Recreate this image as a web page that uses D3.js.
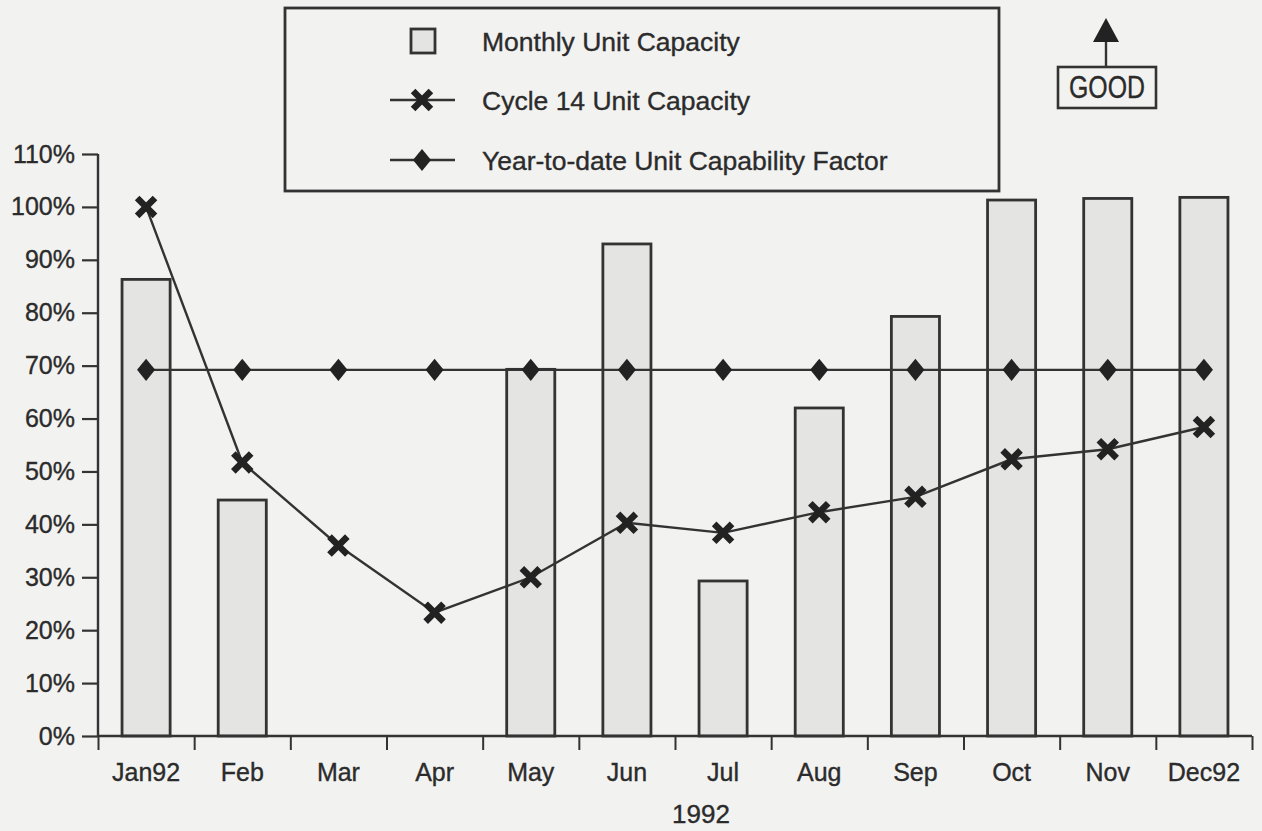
<!DOCTYPE html>
<html>
<head>
<meta charset="utf-8">
<script src="https://cdn.jsdelivr.net/npm/d3@7"></script>
<style>
  html, body { margin: 0; padding: 0; background: #f2f2f1; }
  svg { display: block; }
  text { font-family: "Liberation Sans", Arial, Helvetica, sans-serif; fill: #2b2b2b; stroke: #2b2b2b; stroke-width: 0.35px; }
</style>
</head>
<body>
<svg id="chart" width="1262" height="831"></svg>
<script>
// ---- data ----
const months = ["Jan92","Feb","Mar","Apr","May","Jun","Jul","Aug","Sep","Oct","Nov","Dec92"];
const monthlyUnitCapacity = [0.863, 0.446, 0, 0, 0.693, 0.930, 0.293, 0.620, 0.793, 1.013, 1.016, 1.018];
const cycle14UnitCapacity = [1.000, 0.517, 0.360, 0.233, 0.300, 0.403, 0.384, 0.423, 0.452, 0.523, 0.542, 0.584];
const ytdCapabilityFactor = [0.692, 0.692, 0.692, 0.692, 0.692, 0.692, 0.692, 0.692, 0.692, 0.692, 0.692, 0.692];
const yTicks = [0, 0.1, 0.2, 0.3, 0.4, 0.5, 0.6, 0.7, 0.8, 0.9, 1.0, 1.1];
const legendLabels = ["Monthly Unit Capacity", "Cycle 14 Unit Capacity", "Year-to-date Unit Capability Factor"];
const xTitle = "1992";
const goodLabel = "GOOD";

// ---- layout ----
const svg = d3.select("#chart");
const ink = "#333";
const barFill = "#e4e4e3";
const plotLeft = 98, plotRight = 1252, plotTop = 154, plotBottom = 736;

const x = d3.scaleBand().domain(months).range([plotLeft, plotRight]).paddingInner(0.5).paddingOuter(0.25);
const xb = d3.scaleLinear().domain([0, months.length]).range([plotLeft, plotRight]);
const y = d3.scaleLinear().domain([0, 1.1]).range([plotBottom, plotTop]);

// custom wide diamond symbol
const wideDiamond = {
  draw(ctx, size) {
    const h = Math.sqrt(size) * 0.8, w = h * 0.82;
    ctx.moveTo(0, -h); ctx.lineTo(w, 0); ctx.lineTo(0, h); ctx.lineTo(-w, 0); ctx.closePath();
  }
};

// bars
svg.append("g").selectAll("rect").data(months.map((m,i)=>({m, v: monthlyUnitCapacity[i]})).filter(d=>d.v>0))
  .join("rect")
  .attr("x", d => x(d.m))
  .attr("y", d => y(d.v))
  .attr("width", x.bandwidth())
  .attr("height", d => y(0) - y(d.v))
  .attr("fill", barFill)
  .attr("stroke", ink)
  .attr("stroke-width", 2.8);

// y axis
const yAxis = svg.append("g").attr("transform", `translate(${plotLeft},0)`)
  .call(d3.axisLeft(y).tickValues(yTicks).tickFormat(d3.format(".0%")).tickSize(16).tickPadding(7));
yAxis.select(".domain").attr("stroke", ink).attr("stroke-width", 2.4).attr("d", `M0,${plotTop}V${plotBottom}`);
yAxis.selectAll(".tick line").attr("stroke", ink).attr("stroke-width", 2.2);
yAxis.selectAll("text").attr("font-size", 25).attr("fill", "#2b2b2b")
  .style("font-family", '"Liberation Sans", Arial, sans-serif');

// x axis: boundary ticks
const xAxisTicks = svg.append("g").attr("transform", `translate(0,${plotBottom})`)
  .call(d3.axisBottom(xb).tickValues(d3.range(months.length + 1)).tickFormat("").tickSize(14));
xAxisTicks.select(".domain").attr("stroke", ink).attr("stroke-width", 2.6).attr("d", `M${plotLeft},0H${plotRight}`);
xAxisTicks.selectAll(".tick line").attr("stroke", ink).attr("stroke-width", 2);

// x axis: month labels
const xAxisLabels = svg.append("g").attr("transform", `translate(0,${plotBottom})`)
  .call(d3.axisBottom(x).tickSize(0).tickPadding(27));
xAxisLabels.select(".domain").remove();
xAxisLabels.selectAll("text").attr("font-size", 25).attr("fill", "#2b2b2b")
  .style("font-family", '"Liberation Sans", Arial, sans-serif');

// x title
svg.append("text").attr("x", 701).attr("y", 823).attr("text-anchor", "middle")
  .attr("font-size", 26).text(xTitle);

// YTD line
const line = d3.line().x((d,i) => x(months[i]) + x.bandwidth()/2).y(d => y(d));
svg.append("path").datum(ytdCapabilityFactor).attr("d", line)
  .attr("fill", "none").attr("stroke", ink).attr("stroke-width", 2.2);
const diamond = d3.symbol().type(wideDiamond).size(190);
svg.append("g").selectAll("path").data(ytdCapabilityFactor).join("path")
  .attr("transform", (d,i) => `translate(${x(months[i]) + x.bandwidth()/2},${y(d)})`)
  .attr("d", diamond).attr("fill", "#222");

// Cycle 14 line
svg.append("path").datum(cycle14UnitCapacity).attr("d", line)
  .attr("fill", "none").attr("stroke", ink).attr("stroke-width", 2.4);
const cross = d3.symbol().type(d3.symbolTimes).size(210);
svg.append("g").selectAll("path").data(cycle14UnitCapacity).join("path")
  .attr("transform", (d,i) => `translate(${x(months[i]) + x.bandwidth()/2},${y(d)})`)
  .attr("d", cross).attr("fill", "none").attr("stroke", "#222").attr("stroke-width", 6.5);

// legend
const lg = svg.append("g");
lg.append("rect").attr("x", 285).attr("y", 8).attr("width", 714).attr("height", 183)
  .attr("fill", "none").attr("stroke", ink).attr("stroke-width", 2.8);
const rowY = [41, 100, 160];
lg.append("rect").attr("x", 411).attr("y", rowY[0]-12).attr("width", 24).attr("height", 24)
  .attr("fill", barFill).attr("stroke", ink).attr("stroke-width", 2.8);
[1,2].forEach(r => {
  lg.append("line").attr("x1", 390).attr("x2", 455).attr("y1", rowY[r]).attr("y2", rowY[r])
    .attr("stroke", ink).attr("stroke-width", 2.4);
});
lg.append("path").attr("transform", `translate(422,${rowY[1]})`).attr("d", cross)
  .attr("fill", "none").attr("stroke", "#222").attr("stroke-width", 6.5);
lg.append("path").attr("transform", `translate(422,${rowY[2]})`).attr("d", diamond).attr("fill", "#222");
legendLabels.forEach((t, i) => {
  lg.append("text").attr("x", 482).attr("y", rowY[i]).attr("dy", "0.36em")
    .attr("font-size", 26.5).text(t);
});

// GOOD indicator
const gg = svg.append("g");
gg.append("rect").attr("x", 1058).attr("y", 67).attr("width", 98).attr("height", 41)
  .attr("fill", "none").attr("stroke", ink).attr("stroke-width", 2.6);
gg.append("text").attr("x", 1107).attr("y", 98).attr("text-anchor", "middle")
  .attr("font-size", 31).attr("textLength", 76).attr("lengthAdjust", "spacingAndGlyphs").text(goodLabel);
gg.append("line").attr("x1", 1106).attr("x2", 1106).attr("y1", 67).attr("y2", 40)
  .attr("stroke", ink).attr("stroke-width", 2.4);
gg.append("path").attr("d", "M1106,18L1119,42L1093,42Z").attr("fill", "#222");
</script>
</body>
</html>
